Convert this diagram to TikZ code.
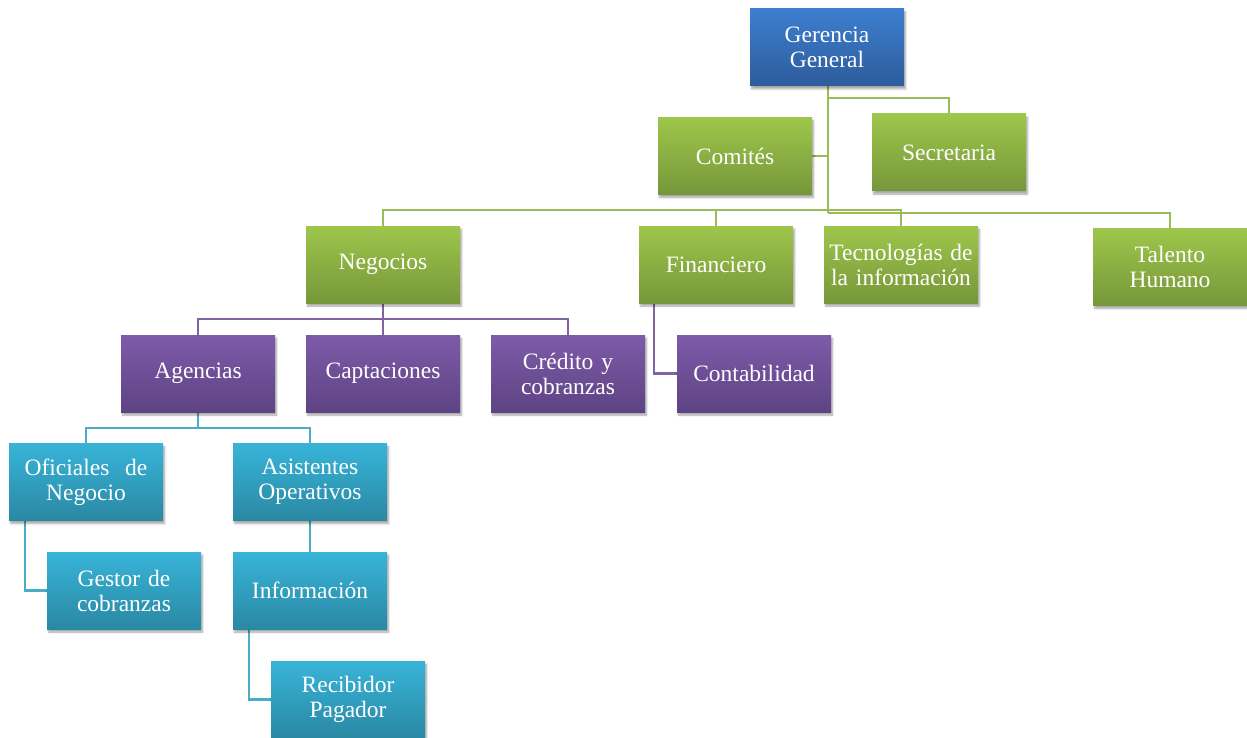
\documentclass[tikz,border=0pt]{standalone}
\usepackage{fontspec}
\setmainfont{Liberation Serif}
\usetikzlibrary{shadows.blur,backgrounds}
\definecolor{blueT}{HTML}{3D7ECF}
\definecolor{blueB}{HTML}{2D5C9C}
\definecolor{greenT}{HTML}{9EC64B}
\definecolor{greenB}{HTML}{76973A}
\definecolor{purpT}{HTML}{7E5BA9}
\definecolor{purpB}{HTML}{5E4384}
\definecolor{cyanT}{HTML}{38B4D9}
\definecolor{cyanB}{HTML}{2A88A3}
\definecolor{gline}{HTML}{9BBB59}
\definecolor{pline}{HTML}{8064A2}
\definecolor{cline}{HTML}{4BACC6}
\tikzset{
  box/.style={rectangle, minimum width=154pt, minimum height=77pt, text width=152pt,
    inner sep=0pt, align=center, text=white,
    font=\fontsize{23.5}{25}\selectfont,
    blur shadow={shadow xshift=1.5pt, shadow yshift=-3pt, shadow blur steps=6, shadow opacity=35}},
  bluebox/.style={box, top color=blueT, bottom color=blueB},
  greenbox/.style={box, top color=greenT, bottom color=greenB},
  purpbox/.style={box, top color=purpT, bottom color=purpB},
  cyanbox/.style={box, top color=cyanT, bottom color=cyanB},
  conn/.style={line width=2.6pt},
  gconn/.style={conn, draw=gline},
  pconn/.style={conn, draw=pline},
  cconn/.style={conn, draw=cline},
}
\begin{document}
\begin{tikzpicture}[x=1pt,y=-1pt]
\useasboundingbox (0,0) rectangle (1247,738);
\node[bluebox] (G) at (827,47.5) {Gerencia\\General};
\node[greenbox] (Ctm) at (735,156) {Comités};
\node[greenbox] (Sec) at (949,152.5) {Secretaria};
\node[greenbox] (Neg) at (383,264.5) {Negocios};
\node[greenbox] (Fin) at (716,264.5) {Financiero};
\node[greenbox] (Tec) at (901,264.5) {Tecnologías de\\la información};
\node[greenbox] (Tal) at (1170,267) {Talento\\Humano};
\node[purpbox] (Age) at (198,373.5) {Agencias};
\node[purpbox] (Cap) at (383,373.5) {Captaciones};
\node[purpbox] (Cre) at (568,373.5) {Crédito y\\cobranzas};
\node[purpbox] (Con) at (754,373.5) {Contabilidad};
\node[cyanbox] (Ofi) at (86,482) {Oficiales~ de\\Negocio};
\node[cyanbox] (Asi) at (310,482) {Asistentes\\Operativos};
\node[cyanbox] (Ges) at (124,590.5) {Gestor de\\cobranzas};
\node[cyanbox] (Inf) at (310,590.5) {Información};
\node[cyanbox] (Rec) at (348,699.5) {Recibidor\\Pagador};
\coordinate (bar1) at (0,210);
\coordinate (bar2) at (0,213);
\coordinate (sbar) at (0,98);
\coordinate (pb) at (0,319);
\coordinate (cb) at (0,428);
\begin{scope}[on background layer]
\draw[gconn] ([xshift=1pt]G.south) -- ([xshift=1pt]G.south |- bar2);
\draw[gconn] ([xshift=1pt]G.south |- sbar) -| (Sec.north);
\draw[gconn] (Ctm.east) -- ([xshift=1pt]Ctm.east -| G.south);
\draw[gconn] (Neg.north) |- (Tec.north |- bar1) -- (Tec.north);
\draw[gconn] (Fin.north) -- (Fin.north |- bar1);
\draw[gconn] ([xshift=1pt]G.south |- bar2) -| (Tal.north);
\draw[pconn] (Neg.south) -- (Cap.north);
\draw[pconn] (Age.north) |- (Cre.north |- pb) -- (Cre.north);
\draw[pconn] ([xshift=15pt]Fin.south west) |- (Con.west);
\draw[cconn] (Age.south) -- (Age.south |- cb);
\draw[cconn] (Ofi.north) |- (Asi.north |- cb) -- (Asi.north);
\draw[cconn] ([xshift=16pt]Ofi.south west) |- (Ges.west);
\draw[cconn] (Asi.south) -- (Inf.north);
\draw[cconn] ([xshift=16pt]Inf.south west) |- (Rec.west);
\end{scope}
\end{tikzpicture}
\end{document}
